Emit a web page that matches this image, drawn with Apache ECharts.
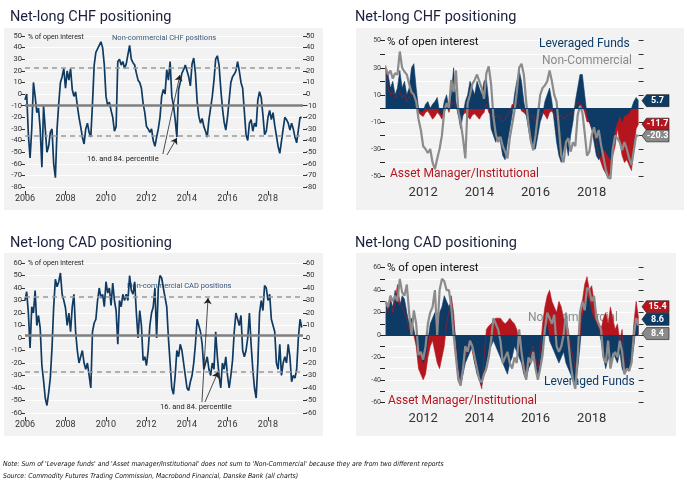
<!DOCTYPE html>
<html>
<head>
<meta charset="utf-8">
<script src="https://cdn.jsdelivr.net/npm/echarts@6/dist/echarts.min.js"></script>
<style>html,body{margin:0;padding:0;background:#fff}#c{width:687px;height:487px}</style>
</head>
<body>
<div id="c"></div>
<script>
// Monthly time grid: Jan 2006 .. Sep 2019 (165 points)
const startYear = 2006;
const nMonths = 165;
const dates = Array.from({length: nMonths}, (_, i) => startYear + i / 12);

// Panel 1: Non-commercial CHF positions, % of open interest (from Jan 2006)
const chfNonComm = [
 -5, 0, -35, -55, -30, 10, -2, -16, -12, -30,
 -63, -10, -30, -50, -45, -33, -30, -60, -72, -30,
 -8, 10, 15, 22, 5, 20, 12, 22, 4, -2,
 2, -10, -20, -28, -37, -43, -30, -25, -33, -37,
 -8, 25, 36, 37, 42, 45, 40, 25, -2, -10,
 -7, -14, -20, -32, -28, 28, 30, 25, 28, 22,
 26, 25, 42, 30, 27, 25, 18, 12, 10, 5,
 -8, -16, -28, -30, -33, -30, -40, -45, -37, -30,
 -20, -2, 4,
 0, 21, 12, 28, -2, -10, -22, -37, 4, 10,
 18, 21, 25, 20, 15, 7, 26, 31, 18, -6,
 -19, -25, -21, -28, -32, -37, -22, -12, -2, 12,
 30, 33, 25, 5, -12, -24, -31, -20, -5, 10,
 15, 17, 20, 28, 20, 10, 5, -15, -35, -40,
 -25, -22, -32, -25, -28, -5, 2, -3, -18, -35,
 -32, -20, -14, -22, -16, -27, -36, -45, -51, -52,
 -30, -20, -22, -25, -31, -25, -30, -37, -42, -31,
 -20, -20.3
];
const chfMid = -9.5, chfP84 = 23, chfP16 = -36;

// Panel 3: Non-commercial CAD positions (from Jan 2006)
const cadNonComm = [
 30, 37, 20, -8, 25, 20, 38, 10, 18, 8,
 -22, -34, -48, -54, -44, -32, -8, 25, 47, 41,
 45, 52, 35, 30, 24, 10, 20, 5, 25, 35,
 5, -10, -20, -15, -10, -20, -25, -20, -30, -40,
 5, 12, 15, 30, 40, 32, 35, 25, 45, 36,
 40, 26, 44, 30, 22, -5, 30, 25, 35, 30,
 35, 30, 50, 38, 35, 45, 20, 0, 22, 10,
 -18, -15, -22, -10, 10, 20, 25, 40, 0, 40,
 50, 48, 40, 40, 25, 0, -20, -40, -45, -30,
 -10, -15, -5, -10, -20, -30, -40, -42, -35, -30,
 -20, -5, 15, 10, 5, -5, -25, -20, -15, -25,
 -30, -20, -25, 5, -15, -30, -40, -20, -25, -15,
 -30, -40, -30, -18, 5, 20, 15, 10, 18, -10,
 -15, -10, 0, 20, -5, -25, -40, -48, -20, 20,
 30, 22, 42, 40, 30, 35, 15, 10, 5, -20,
 -25, -5, -30, -20, -15, -20, -5, -15, -35, -30,
 -32, -25, 0, 15, 8.4
];
const cadMid = 2.4, cadP84 = 33, cadP16 = -27;

// Right panels start at month index 56 (Sep 2010)
const rightStart = 56;
const chfLevFunds = [
 30, 25, 15, 20, 10, 15, 28, 15, 20, 10,
 15, 30, 33, 15, 0, -3, -2, 3, 5, 0,
 3, 5, 8, -3, -5, 5, 10, 0, 10, 30,
 5, -5, -15, -5, 5, 10, 20, 15, 10, 20,
 15, 10, 20, 22, 5, -15, -20, -25, -20, -25,
 -35, -38, -25, -15, -5, 10, 20, 28, 20, 5,
 -5, -15, -25, -30, -30, -20, -10, -5, 5, 10,
 15, 5, -10, -25, -35, -40, -30, -25, -35, -20,
 -10, 5, 15, 25, 25, 10, -5, -10, -15, -25,
 -35, -38, -35, -30, -32, -35, -38, -28, -15, -10,
 -5, -10, -5, -5, -3, 0, 5, 8, 5.7
];
const chfAssetMgr = [
 32, 15, 10, 12, 8, 10, 12, 8, 10, 5,
 8, 12, 10, 5, -3, -5, -6, -3, -2, -5,
 -8, -6, -3, -5, -8, -3, 2, -3, 3, 5,
 2, -5, -8, -5, -3, -6, -8, -5, -4, -6,
 -8, -5, -3, 3, -3, -5, -8, -6, -5, -8,
 -10, -8, -5, -3, 3, 2, 5, 3, -2, -3,
 -5, -8, -6, -5, -10, -8, -4, -3, -5, -8,
 -3, -2, -5, -8, -6, -5, -8, -6, -5, -4,
 -3, 2, 5, 3, 2, -3, -10, -10, -15, -20,
 -25, -35, -40, -45, -48, -52, -48, -35, -28, -15,
 -25, -35, -40, -38, -42, -46, -30, -15, -11.7
];
const cadLevFunds = [
 30, 20, 30, 25, 40, 30, 25, 35, 32, 20,
 10, 15, 5, -5, -20, -15, -25, -20, -5, 10,
 15, 20, 5, 20, 25, 35, 30, 25, 30, 10,
 -5, -30, -45, -35, -25, -20, -15, -10, -25, -35,
 -40, -45, -35, -25, -15, -10, -5, -10, -15, -20,
 -25, -30, -35, -25, -20, -10, -15, -20, -25, -35,
 -40, -30, -25, -20, -30, -40, -25, -10, 5, 10,
 -5, -10, -15, -20, -25, -20, -15, -25, -30, -35,
 -40, -45, -30, -10, 15, 25, 35, 30, 20, 15,
 10, 5, -5, -20, -30, -20, -25, -15, -20, -25,
 -15, -30, -35, -30, -30, -25, -10, 10, 8.6
];
const cadAssetMgr = [
 20, 25, 35, 20, 30, 45, 30, 25, 20, 15,
 5, 10, 0, -10, -30, -35, -40, -35, -20, -10,
 -5, -15, -25, -30, -20, -10, 10, 20, 35, 20,
 -10, -30, -40, -30, -20, -10, -5, -15, -25, -30,
 -40, -48, -20, 5, 8, 10, 12, 15, 15, 15,
 12, 10, 12, 15, 12, 10, 5, -5, -15, -25,
 -35, -20, -15, -10, -20, -30, -15, 10, 25, 35,
 40, 30, 25, 20, 30, 25, 15, 10, 5, -10,
 -20, -30, -20, 10, 30, 45, 52, 40, 44, 30,
 20, 10, 5, 15, 20, 10, 25, 15, 5, 10,
 -5, 5, -25, -30, -32, -20, 10, 30, 15.4
];

const rightYearTicks = [2012, 2014, 2016, 2018];

const NAVY = '#0f3a62', LF = '#0d3b66', AM = '#b5161e', NC = '#8b8b8b';
const FONT = 'Roboto, "Open Sans", sans-serif';
const NARROW = '"Liberation Sans Narrow", "DejaVu Sans Condensed", sans-serif';

function pairs(vals, startIdx) { return vals.map((v, k) => [dates[startIdx + k], v]); }

function endBox(vals, startIdx, color, dy) {
  const k = vals.length - 1;
  return {
    silent: true,
    symbol: 'path://M0,6 L5,0 L30,0 L30,12 L5,12 Z',
    symbolSize: [27, 12], symbolKeepAspect: false, symbolOffset: [17, dy],
    itemStyle: {color: color, borderColor: '#222', borderWidth: 0.6},
    label: {show: true, color: '#fff', fontSize: 9, fontWeight: 'bold', fontFamily: FONT, offset: [2, 0],
            formatter: () => vals[k].toFixed(1)},
    data: [{coord: [dates[startIdx + k], vals[k]], value: vals[k]}]
  };
}

function leftAxisY(grid, min, max) {
  return {gridIndex: grid, type: 'value', min: min, max: max, interval: 10, position: 'left',
    axisLine: {show: false}, axisTick: {show: true, length: 4, lineStyle: {color: '#333'}},
    axisLabel: {fontSize: 7.5, color: '#333', margin: 3, fontFamily: FONT},
    splitLine: {show: true, lineStyle: {color: '#fff', width: 1}}};
}
function rightAxisY(grid, min, max, labels) {
  return {gridIndex: grid, type: 'value', min: min, max: max, interval: 10, position: 'right',
    axisLine: {show: false}, axisTick: {show: true, length: labels ? 4 : 5, lineStyle: {color: '#333'}},
    axisLabel: {show: labels, fontSize: 7.5, color: '#333', margin: 3, fontFamily: FONT},
    splitLine: {show: false}};
}
function rightPanelY(grid, min, max, showFn) {
  return {gridIndex: grid, type: 'value', min: min, max: max, interval: 10, position: 'left',
    axisLine: {show: false}, axisTick: {show: true, length: 5, lineStyle: {color: '#222'}},
    axisLabel: {fontSize: 7, color: '#444', margin: 4, fontFamily: FONT,
      formatter: v => showFn(v) ? String(v) : ''},
    splitLine: {show: true, lineStyle: {color: '#fff', width: 1.2}}};
}
function leftX(grid) {
  return {gridIndex: grid, type: 'value', min: 2006, max: 2019.73, interval: 2, offset: 4,
    axisLine: {show: false, onZero: false}, axisTick: {show: true, length: 4, lineStyle: {color: '#333'}},
    axisLabel: {fontSize: 9, color: '#333', margin: 3, fontFamily: FONT, showMaxLabel: false,
      formatter: v => String(v)},
    splitLine: {show: false}};
}
function rightX(grid) {
  return {gridIndex: grid, type: 'value', min: 2010.64, max: 2019.67,
    axisLine: {show: false, onZero: false}, axisTick: {show: false},
    axisLabel: {customValues: rightYearTicks, fontSize: 13, color: '#333', margin: 10, fontFamily: FONT,
      formatter: v => String(v)},
    splitLine: {show: false}};
}

function refLines(mid, p84, p16, arrows) {
  const data = [
    {yAxis: mid, lineStyle: {color: '#7f7f7f', width: 2.6, type: 'solid'}},
    {yAxis: p84, lineStyle: {color: '#9a9a9a', width: 1.5, type: [5, 4]}},
    {yAxis: p16, lineStyle: {color: '#9a9a9a', width: 1.5, type: [5, 4]}}
  ];
  arrows.forEach(a => data.push([
    {coord: a[0], symbol: 'none', lineStyle: {color: '#222', width: 0.8, type: 'solid'}},
    {coord: a[1], symbol: 'arrow', symbolSize: 6}
  ]));
  return {silent: true, symbol: ['none', 'none'], label: {show: false}, animation: false, data: data};
}

const zeroLine = {silent: true, symbol: ['none', 'none'], label: {show: false},
  lineStyle: {color: LF, width: 1, type: 'solid'}, data: [{yAxis: 0}]};

function txt(x, y, s, size, color, family, italic) {
  return {type: 'text', x: x, y: y, z: 1,
    style: {text: s, fontSize: size, fill: color, fontFamily: family || FONT,
            fontStyle: italic ? 'italic' : 'normal', textVerticalAlign: 'middle'}};
}
function bg(x, y, w, h) {
  return {type: 'rect', z: -100, shape: {x: x, y: y, width: w, height: h}, style: {fill: '#f2f2f2'}};
}

const chart = echarts.init(document.getElementById('c'), null, {renderer: 'canvas'});
chart.setOption({
  animation: false,
  backgroundColor: '#fff',
  grid: [
    {left: 25, top: 36, width: 278, height: 151},
    {left: 385, top: 40.7, width: 253.6, height: 135.3},
    {left: 25, top: 263, width: 278, height: 150},
    {left: 385, top: 267.7, width: 253.6, height: 134.6}
  ],
  xAxis: [leftX(0), rightX(1), leftX(2), rightX(3)],
  yAxis: [
    leftAxisY(0, -80, 50), rightAxisY(0, -80, 50, true),
    rightPanelY(1, -50, 50, v => Math.abs(v) % 20 === 10), rightAxisY(1, -50, 50, false),
    leftAxisY(2, -60, 60), rightAxisY(2, -60, 60, true),
    rightPanelY(3, -60, 60, v => Math.abs(v) % 20 === 0), rightAxisY(3, -60, 60, false)
  ],
  series: [
    {type: 'line', xAxisIndex: 0, yAxisIndex: 0, data: pairs(chfNonComm, 0), showSymbol: false,
     lineStyle: {color: NAVY, width: 1.7}, itemStyle: {color: NAVY},
     markLine: refLines(chfMid, chfP84, chfP16, [
       [[2012.81, -51.6], [2013.65, 16.4]],
       [[2013.01, -52.5], [2013.5, -37.8]]
     ])},
    {type: 'line', xAxisIndex: 1, yAxisIndex: 2, data: pairs(chfAssetMgr, rightStart), showSymbol: false, clip: false,
     lineStyle: {color: AM, width: 0.6}, itemStyle: {color: AM}, areaStyle: {color: AM, opacity: 1},
     markPoint: endBox(chfAssetMgr, rightStart, AM, 0)},
    {type: 'line', xAxisIndex: 1, yAxisIndex: 2, data: pairs(chfLevFunds, rightStart), showSymbol: false, clip: false,
     lineStyle: {color: LF, width: 0.6}, itemStyle: {color: LF}, areaStyle: {color: LF, opacity: 1},
     markLine: zeroLine, markPoint: endBox(chfLevFunds, rightStart, LF, 0)},
    {type: 'line', xAxisIndex: 1, yAxisIndex: 2, data: pairs(chfNonComm.slice(rightStart), rightStart), showSymbol: false, clip: false,
     lineStyle: {color: NC, width: 2.2}, itemStyle: {color: NC},
     markPoint: endBox(chfNonComm, 0, '#8a8a8a', 0)},
    {type: 'line', xAxisIndex: 2, yAxisIndex: 4, data: pairs(cadNonComm, 0), showSymbol: false,
     lineStyle: {color: NAVY, width: 1.7}, itemStyle: {color: NAVY},
     markLine: refLines(cadMid, cadP84, cadP16, [
       [[2014.74, -51.2], [2015.04, 32]],
       [[2014.89, -51.2], [2015.53, -27.2]]
     ])},
    {type: 'line', xAxisIndex: 3, yAxisIndex: 6, data: pairs(cadAssetMgr, rightStart), showSymbol: false, clip: false,
     lineStyle: {color: AM, width: 0.6}, itemStyle: {color: AM}, areaStyle: {color: AM, opacity: 1},
     markPoint: endBox(cadAssetMgr, rightStart, AM, -11)},
    {type: 'line', xAxisIndex: 3, yAxisIndex: 6, data: pairs(cadLevFunds, rightStart), showSymbol: false, clip: false,
     lineStyle: {color: LF, width: 0.6}, itemStyle: {color: LF}, areaStyle: {color: LF, opacity: 1},
     markLine: zeroLine, markPoint: endBox(cadLevFunds, rightStart, LF, -6)},
    {type: 'line', xAxisIndex: 3, yAxisIndex: 6, data: pairs(cadNonComm.slice(rightStart), rightStart), showSymbol: false, clip: false,
     lineStyle: {color: NC, width: 2.2}, itemStyle: {color: NC},
     markPoint: endBox(cadNonComm, 0, '#8a8a8a', 8)}
  ],
  graphic: [
    bg(4, 28, 319, 182), bg(356, 28, 328, 182), bg(4, 253, 319, 183), bg(356, 253, 320, 183),
    txt(10, 17, 'Net-long CHF positioning', 14.5, '#1b1f3b'),
    txt(355, 17, 'Net-long CHF positioning', 14.5, '#1b1f3b'),
    txt(10, 243, 'Net-long CAD positioning', 14.5, '#1b1f3b'),
    txt(355, 243, 'Net-long CAD positioning', 14.5, '#1b1f3b'),
    // Panel 1
    txt(28, 37, '% of open interest', 7, '#222'),
    txt(112, 38, 'Non-commercial CHF positions', 7.5, '#3b5878'),
    txt(87, 159, '16. and 84. percentile', 7.5, '#222'),
    // Panel 2
    txt(387, 42, '% of open interest', 11.5, '#111'),
    txt(539, 44, 'Leveraged Funds', 12, LF),
    txt(542, 61, 'Non-Commercial', 12, '#8a8a8a'),
    txt(390, 174, 'Asset Manager/Institutional', 12, AM),
    // Panel 3
    txt(28, 263, '% of open interest', 7, '#222'),
    txt(127, 286, 'Non-commercial CAD positions', 7.5, '#3b5878'),
    txt(160, 407, '16. and 84. percentile', 7.5, '#222'),
    // Panel 4
    txt(387, 268, '% of open interest', 11.5, '#111'),
    txt(528, 318, 'Non-Commercial', 12, '#8a8a8a'),
    txt(544, 382, 'Leveraged Funds', 12, LF),
    txt(388, 401, 'Asset Manager/Institutional', 12, AM),
    // Footer
    txt(3, 464, "Note: Sum of 'Leverage funds' and 'Asset manager/Institutional' does not sum to 'Non-Commercial' because they are from two different reports", 6.8, '#111', NARROW, true),
    txt(3, 476, 'Source: Commodity Futures Trading Commission, Macrobond Financial, Danske Bank (all charts)', 6.8, '#111', NARROW, true)
  ]
});
</script>
</body>
</html>
